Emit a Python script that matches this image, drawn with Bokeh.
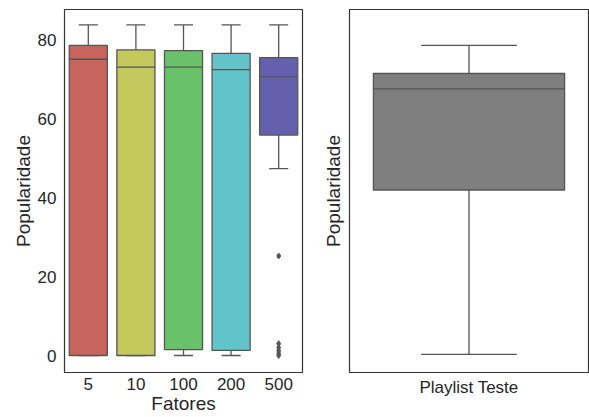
from bokeh.plotting import figure
from bokeh.layouts import row
from bokeh.models import FixedTicker, Range1d
from bokeh.embed import file_html
from bokeh.resources import INLINE

# ---- data ----
fatores = ["5", "10", "100", "200", "500"]
q1 = [0.0, 0.0, 1.5, 1.3, 55.8]
median = [75.0, 73.0, 73.0, 72.4, 70.6]
q3 = [78.5, 77.4, 77.2, 76.5, 75.4]
whisk_lo = [0.0, 0.0, 0.0, 0.0, 47.3]
whisk_hi = [83.7, 83.7, 83.7, 83.7, 83.7]
outlier_cat = ["500", "500", "500", "500", "500", "500"]
outlier_val = [25.2, 3.0, 2.0, 1.2, 0.5, 0.0]
colors = ["#C8645E", "#C4C95E", "#69C269", "#62C4C9", "#6560AE"]

teste_label = ["Playlist Teste"]
teste_q1 = [41.9]
teste_median = [67.5]
teste_q3 = [71.4]
teste_lo = [0.3]
teste_hi = [78.5]
teste_color = "#7F7F7F"

LINE = "#555555"
FONT = "Liberation Sans"
yr = Range1d(-4.3, 87.6)

def style(p):
    p.outline_line_color = "#333333"
    p.outline_line_width = 1.2
    p.grid.visible = False
    for ax in (p.xaxis[0], p.yaxis[0]):
        ax.axis_line_color = None
        ax.major_tick_line_color = None
        ax.minor_tick_line_color = None
        ax.major_tick_out = 0
        ax.major_tick_in = 0
        ax.major_label_text_font = FONT
        ax.major_label_text_font_size = "17px"
        ax.major_label_text_color = "#262626"
        ax.axis_label_text_font = FONT
        ax.axis_label_text_font_size = "19px"
        ax.axis_label_text_font_style = "normal"
        ax.axis_label_text_color = "#262626"
    p.xaxis[0].major_label_standoff = 5
    p.xaxis[0].axis_label_standoff = 0
    p.yaxis[0].major_label_standoff = 8
    p.yaxis[0].axis_label_standoff = 1

# ---- left plot ----
n = len(fatores)
xs = list(range(n))
p1 = figure(width=306, height=416, x_range=Range1d(-0.5, n - 0.5), y_range=yr,
            output_backend="svg", toolbar_location=None,
            min_border_left=64, min_border_right=4, min_border_top=9, min_border_bottom=36)
style(p1)
hw, cw = 0.4, 0.2
p1.segment(x0=xs, y0=q3, x1=xs, y1=whisk_hi, line_color=LINE, line_width=1.3)
p1.segment(x0=xs, y0=q1, x1=xs, y1=whisk_lo, line_color=LINE, line_width=1.3)
p1.segment(x0=[x - cw for x in xs], y0=whisk_hi, x1=[x + cw for x in xs], y1=whisk_hi, line_color=LINE, line_width=1.3)
p1.segment(x0=[x - cw for x in xs], y0=whisk_lo, x1=[x + cw for x in xs], y1=whisk_lo, line_color=LINE, line_width=1.3)
p1.vbar(x=xs, width=2 * hw, bottom=q1, top=q3, fill_color=colors, line_color=LINE, line_width=1.3)
p1.segment(x0=[x - hw for x in xs], y0=median, x1=[x + hw for x in xs], y1=median, line_color=LINE, line_width=1.3)
ox = [fatores.index(c) for c in outlier_cat]
p1.scatter(x=ox, y=outlier_val, marker="diamond", size=6, fill_color=LINE, line_color=LINE)
p1.xaxis.ticker = FixedTicker(ticks=xs)
p1.xaxis.major_label_overrides = {i: f for i, f in enumerate(fatores)}
p1.yaxis.ticker = FixedTicker(ticks=[0, 20, 40, 60, 80])
p1.xaxis.axis_label = "Fatores"
p1.yaxis.axis_label = "Popularidade"

# ---- right plot ----
p2 = figure(width=283, height=416, x_range=Range1d(-0.5, 0.5), y_range=yr,
            output_backend="svg", toolbar_location=None,
            min_border_left=43, min_border_right=1, min_border_top=9, min_border_bottom=36)
style(p2)
tx = [0]
p2.segment(x0=tx, y0=teste_q3, x1=tx, y1=teste_hi, line_color=LINE, line_width=1.3)
p2.segment(x0=tx, y0=teste_q1, x1=tx, y1=teste_lo, line_color=LINE, line_width=1.3)
p2.segment(x0=[-cw], y0=teste_hi, x1=[cw], y1=teste_hi, line_color=LINE, line_width=1.3)
p2.segment(x0=[-cw], y0=teste_lo, x1=[cw], y1=teste_lo, line_color=LINE, line_width=1.3)
p2.vbar(x=tx, width=2 * hw, bottom=teste_q1, top=teste_q3, fill_color=teste_color, line_color=LINE, line_width=1.3)
p2.segment(x0=[-hw], y0=teste_median, x1=[hw], y1=teste_median, line_color=LINE, line_width=1.3)
p2.xaxis.ticker = FixedTicker(ticks=tx)
p2.xaxis.major_label_overrides = {0: teste_label[0]}
p2.yaxis.ticker = FixedTicker(ticks=[])
p2.yaxis.axis_label = "Popularidade"
p2.yaxis.axis_label_standoff = 6

layout = row(p1, p2)
open("out.html", "w").write(file_html(layout, INLINE))
